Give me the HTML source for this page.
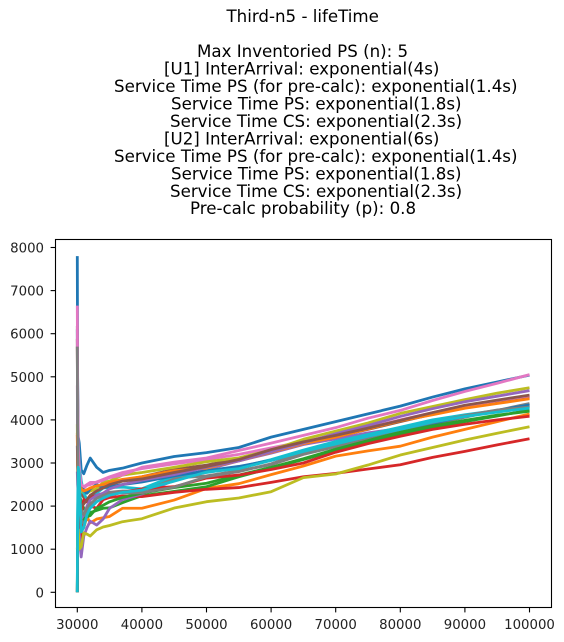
<!DOCTYPE html>
<html>
<head>
<meta charset="utf-8">
<style>
html,body{margin:0;padding:0;background:#fff;}
svg{display:block;}
text{font-family:"DejaVu Sans","Liberation Sans",sans-serif;fill:#000;}
.t{font-size:16.67px;white-space:pre;}
.tick{font-size:13.3px;fill:#222;}
</style>
</head>
<body>
<svg id="chart" xmlns="http://www.w3.org/2000/svg" width="564" height="642" viewBox="0 0 564 642">
<rect x="0" y="0" width="564" height="642" fill="#fff"/>
<g>
<text class="t" x="226.5" y="22">Third-n5 - lifeTime</text>
<text class="t" x="197" y="57">Max Inventoried PS (n): 5</text>
<text class="t" x="164" y="74.5">[U1] InterArrival: exponential(4s)</text>
<text class="t" x="114" y="92">Service Time PS (for pre-calc): exponential(1.4s)</text>
<text class="t" x="171" y="109.5">Service Time PS: exponential(1.8s)</text>
<text class="t" x="170" y="127">Service Time CS: exponential(2.3s)</text>
<text class="t" x="164" y="144.5">[U2] InterArrival: exponential(6s)</text>
<text class="t" x="114" y="162">Service Time PS (for pre-calc): exponential(1.4s)</text>
<text class="t" x="171" y="179.5">Service Time PS: exponential(1.8s)</text>
<text class="t" x="170" y="197">Service Time CS: exponential(2.3s)</text>
<text class="t" x="190" y="214">Pre-calc probability (p): 0.8</text>
</g>
<g id="series"></g>
<g id="axes"></g>
</svg>
<script>
const xTickLabels = [30000, 40000, 50000, 60000, 70000, 80000, 90000, 100000];
const yTickLabels = [0, 1000, 2000, 3000, 4000, 5000, 6000, 7000, 8000];
const sampleTimes = [30000,30050,30150,30300,30600,31000,31500,32000,33000,34000,35000,37000,40000,45000,50000,55000,60000,65000,70000,75000,80000,85000,90000,95000,100000];
const run01 = [7800,5000,3600,3465,2840,2750,2950,3115,2900,2780,2830,2880,3000,3150,3240,3360,3600,3780,3960,4140,4320,4530,4720,4880,5040];
const run02 = [3700,2900,2100,1500,1400,1500,1750,1610,1700,1730,1760,1950,1950,2140,2410,2520,2730,2930,3160,3280,3390,3600,3780,3960,4137];
const run03 = [0,1500,2600,2300,2100,1950,1800,1850,1900,1950,1960,2080,2241,2340,2450,2680,2880,3080,3290,3490,3670,3820,3960,4090,4230];
const run04 = [5880,4000,2100,1400,1200,1840,1850,2000,1950,2150,2200,2230,2220,2320,2390,2430,2550,2680,2760,2860,2960,3130,3270,3420,3564];
const run05 = [0,800,1900,1400,820,1300,1500,1650,1560,1700,1950,2150,2280,2600,2850,3050,3230,3430,3560,3700,3800,3920,4080,4210,4320];
const run06 = [5700,4000,3000,2600,2300,2200,2100,2150,2350,2450,2500,2600,2680,2850,2950,3100,3300,3460,3610,3780,3960,4130,4300,4420,4530];
const run07 = [4800,3600,2800,2500,2400,2420,2480,2500,2560,2620,2680,2780,2870,2980,3080,3200,3350,3500,3650,3820,4000,4170,4320,4450,4560];
const run08 = [6180,4500,3000,2300,1700,1600,1850,2000,2200,2300,2320,2350,2350,2650,2700,2820,2960,3200,3380,3560,3740,3900,4060,4220,4380];
const run09 = [3900,3000,2600,2450,2350,2300,2300,2350,2400,2550,2580,2720,2780,2900,3030,3120,3300,3550,3740,3930,4150,4310,4470,4620,4747];
const run10 = [0,1800,3400,3000,2600,2300,2150,2180,2300,2420,2430,2440,2400,2700,2780,2900,3080,3300,3500,3660,3830,4000,4120,4220,4320];
const run11 = [6100,4200,2900,2700,2500,2350,2300,2400,2500,2430,2450,2500,2560,2700,2820,2920,3060,3250,3430,3600,3770,3920,4090,4220,4346];
const run12 = [3650,3000,2700,2500,2400,2350,2380,2420,2470,2500,2550,2620,2680,2820,2880,3050,3250,3450,3600,3790,3980,4120,4270,4380,4490];
const run13 = [0,1000,2000,1900,1800,1700,1750,1780,1950,2020,2100,2200,2300,2430,2530,2720,2900,3100,3320,3520,3720,3860,3990,4110,4200];
const run14 = [0,900,2000,2100,1840,2150,2100,2200,2250,2180,2250,2320,2400,2450,2650,2720,2850,3000,3250,3450,3620,3780,3900,4000,4085];
const run15 = [2800,2500,2300,2000,1700,1800,2000,2150,2250,2300,2400,2500,2600,2730,2900,3050,3260,3470,3680,3870,4080,4260,4420,4550,4678];
const run16 = [3400,3000,2400,2100,2000,2050,2150,2250,2350,2420,2500,2580,2630,2780,2920,3080,3310,3490,3640,3810,3990,4170,4340,4460,4575];
const run17 = [6650,4800,3400,2900,2500,2450,2500,2550,2550,2600,2660,2720,2900,3020,3115,3290,3460,3640,3820,4040,4220,4450,4660,4850,5050];
const run18 = [5700,3800,2500,2200,1900,1800,1950,2050,2180,2250,2300,2300,2310,2440,2680,2800,2980,3230,3420,3600,3780,3940,4100,4230,4300];
const run19 = [1000,1200,1450,1000,1058,1375,1350,1306,1450,1515,1550,1638,1707,1955,2102,2187,2334,2660,2745,2953,3185,3360,3534,3690,3842];
const run20 = [0,1500,2900,2770,1400,1500,1800,1950,2100,2187,2250,2320,2370,2580,2790,2870,3060,3270,3440,3620,3780,3950,4080,4180,4275];

const allRuns = [run01,run02,run03,run04,run05,run06,run07,run08,run09,run10,run11,run12,run13,run14,run15,run16,run17,run18,run19,run20];
const runColors = ['#1f77b4','#ff7f0e','#2ca02c','#d62728','#9467bd','#8c564b','#e377c2','#7f7f7f','#bcbd22','#17becf'];

const NS = 'http://www.w3.org/2000/svg';
const plot = {left:55.5, right:551.5, top:239.5, bottom:607.5};
function xScale(v){ return 77.3 + (v - 30000) * 0.00646; }
function yScale(v){ return 592.3 - v * 0.0431; }

const seriesGroup = document.getElementById('series');
allRuns.forEach(function(run, i){
  const pts = run.map(function(v, j){ return xScale(sampleTimes[j]).toFixed(2) + ',' + yScale(v).toFixed(2); }).join(' ');
  const line = document.createElementNS(NS, 'polyline');
  line.setAttribute('points', pts);
  line.setAttribute('fill', 'none');
  line.setAttribute('stroke', runColors[i % 10]);
  line.setAttribute('stroke-width', '2.8');
  line.setAttribute('stroke-linejoin', 'round');
  
  
  seriesGroup.appendChild(line);
});

const axes = document.getElementById('axes');
const frame = document.createElementNS(NS, 'rect');
frame.setAttribute('x', plot.left);
frame.setAttribute('y', plot.top);
frame.setAttribute('width', plot.right - plot.left);
frame.setAttribute('height', plot.bottom - plot.top);
frame.setAttribute('fill', 'none');
frame.setAttribute('stroke', '#000');
frame.setAttribute('stroke-width', '1.1');


axes.appendChild(frame);

xTickLabels.forEach(function(v){
  const x = xScale(v);
  const tick = document.createElementNS(NS, 'line');
  tick.setAttribute('x1', x);
  tick.setAttribute('x2', x);
  tick.setAttribute('y1', plot.bottom);
  tick.setAttribute('y2', plot.bottom + 4.9);
  tick.setAttribute('stroke', '#000');
  tick.setAttribute('stroke-width', '1.1');
  
  
  axes.appendChild(tick);
  const label = document.createElementNS(NS, 'text');
  label.setAttribute('x', x);
  label.setAttribute('y', 629);
  label.setAttribute('text-anchor', 'middle');
  label.setAttribute('class', 'tick');
  
  
  label.textContent = v;
  axes.appendChild(label);
});

yTickLabels.forEach(function(v){
  const y = yScale(v);
  const tick = document.createElementNS(NS, 'line');
  tick.setAttribute('x1', plot.left - 4.9);
  tick.setAttribute('x2', plot.left);
  tick.setAttribute('y1', y);
  tick.setAttribute('y2', y);
  tick.setAttribute('stroke', '#000');
  tick.setAttribute('stroke-width', '1.1');
  
  
  axes.appendChild(tick);
  const label = document.createElementNS(NS, 'text');
  label.setAttribute('x', 44);
  label.setAttribute('y', y + 5);
  label.setAttribute('text-anchor', 'end');
  label.setAttribute('class', 'tick');
  
  
  label.textContent = v;
  axes.appendChild(label);
});
</script>
</body>
</html>
